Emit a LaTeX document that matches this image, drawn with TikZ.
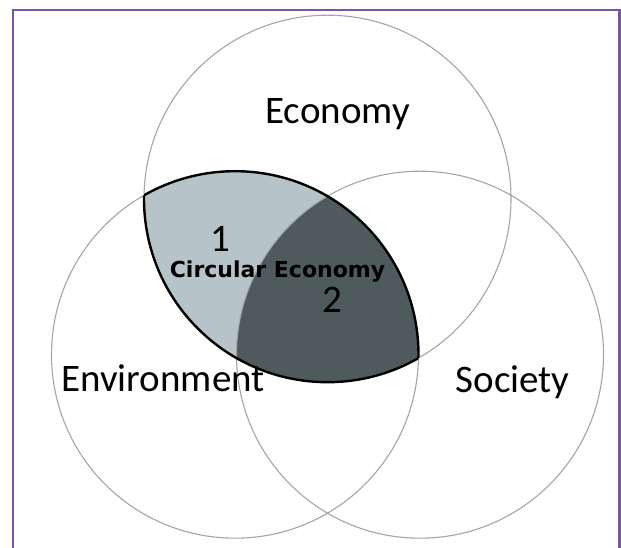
\documentclass[tikz,border=0pt]{standalone}
\usepackage{fontspec}
\usepackage{tikz}
\newfontfamily\labelfont{Carlito}
\newfontfamily\cefont{DejaVu Sans}
\definecolor{framepurple}{RGB}{122,84,172}
\definecolor{lenslight}{RGB}{182,196,201}
\definecolor{lensdark}{RGB}{78,90,91}
\definecolor{ringgray}{RGB}{165,165,165}
\def\econcircle{(327.5,349.3) circle (183.5pt)}
\def\envcircle{(235,193.3) circle (183.5pt)}
\def\soccircle{(420,193.3) circle (183.5pt)}

\begin{document}
\begin{tikzpicture}[x=1pt,y=1pt,
    ring/.style={draw=ringgray,line width=1.1pt},
    lensline/.style={draw=black,line width=2.4pt},
    setlabel/.style={font=\labelfont\fontsize{39}{39}\selectfont,anchor=base,inner sep=0pt},
    ce/.style={font=\cefont\bfseries\fontsize{22}{22}\selectfont,anchor=base,inner sep=0pt}]
    \useasboundingbox (0,0) rectangle (621,548);
    \fill[white] (0,0) rectangle (621,548);
    \draw[framepurple,line width=2.6pt] (13,-10) rectangle (619.5,538);
    \begin{scope}
        \clip \econcircle;
        \fill[lenslight] \envcircle;
    \end{scope}
    \begin{scope}
        \clip \econcircle;
        \clip \envcircle;
        \fill[lensdark] \soccircle;
    \end{scope}
    \draw[ring] \econcircle;
    \draw[ring] \envcircle;
    \draw[ring] \soccircle;
    \begin{scope}
        \clip \econcircle;
        \draw[lensline] \envcircle;
    \end{scope}
    \begin{scope}
        \clip \envcircle;
        \draw[lensline] \econcircle;
    \end{scope}
    \node[setlabel] (econ) at (337.5,424) {Economy};
    \node[setlabel] (envir) at (163,156.6) {Environment};
    \node[setlabel] (soc) at (512.6,155) {Society};
    \node[setlabel] (one) at (220.5,296.4) {1};
    \node[setlabel] (two) at (332.6,235) {2};
    \node[ce] (circ) at (277.5,270) {Circular Economy};
\end{tikzpicture}
\end{document}
